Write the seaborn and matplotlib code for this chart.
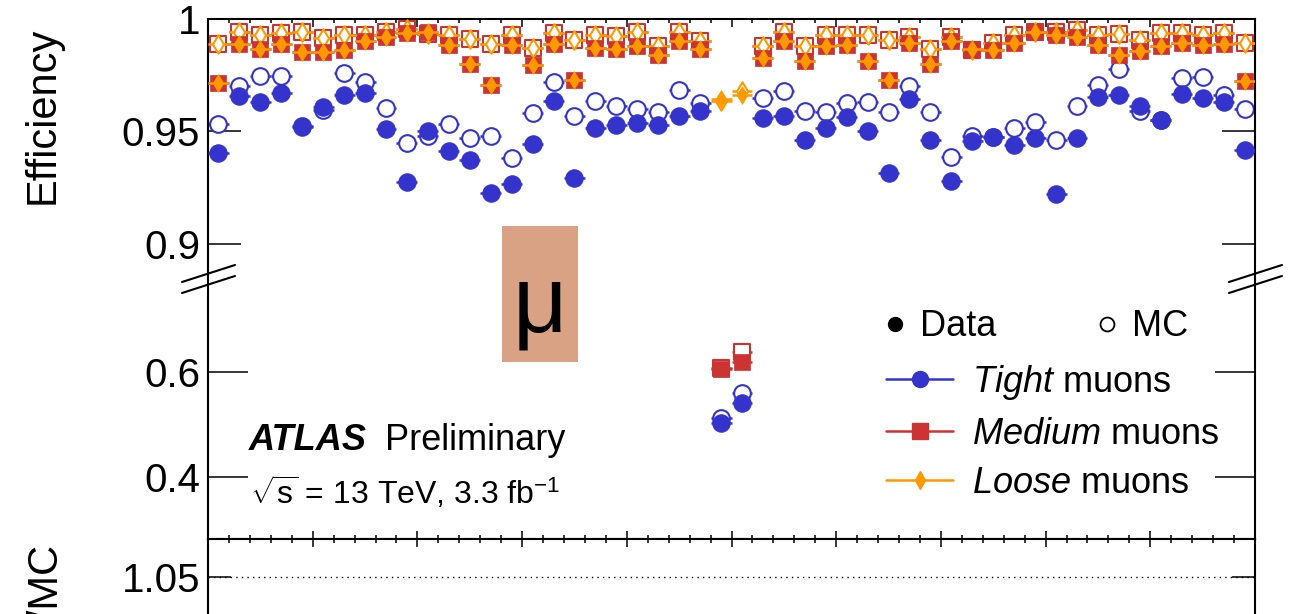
import numpy as np
import pandas as pd
import matplotlib
matplotlib.use("Agg")
import matplotlib.pyplot as plt
import seaborn as sns
from matplotlib.lines import Line2D
from matplotlib.patches import Rectangle
from matplotlib.ticker import MultipleLocator, FixedLocator, FixedFormatter, NullLocator

# ---------------- data (efficiency vs eta, 50 bins of 0.1) ----------------
eta = np.round(np.linspace(-2.45, 2.45, 50), 2)

tight_data = [0.9406, 0.9658, 0.9632, 0.9670, 0.9522, 0.9611, 0.9663, 0.9669, 0.9509, 0.9277,
              0.9501, 0.9413, 0.9372, 0.9226, 0.9267, 0.9443, 0.9636, 0.9295, 0.9516, 0.9531,
              0.9538, 0.9529, 0.9567, 0.9589, 0.502, 0.5415, 0.9559, 0.9567, 0.9460, 0.9515,
              0.9566, 0.9501, 0.9317, 0.9644, 0.9463, 0.9280, 0.9457, 0.9475, 0.9438, 0.9472,
              0.9221, 0.9472, 0.9655, 0.9661, 0.9614, 0.9553, 0.9666, 0.9648, 0.9633, 0.9419]
tight_mc = [0.9534, 0.9700, 0.9746, 0.9746, 0.9526, 0.9597, 0.9761, 0.9721, 0.9604, 0.9450,
            0.9478, 0.9534, 0.9471, 0.9480, 0.9380, 0.9580, 0.9719, 0.9570, 0.9636, 0.9614,
            0.9600, 0.9585, 0.9685, 0.9626, 0.513, 0.5606, 0.9647, 0.9680, 0.9592, 0.9585,
            0.9625, 0.9633, 0.9588, 0.9700, 0.9588, 0.9387, 0.9480, 0.9475, 0.9516, 0.9544,
            0.9460, 0.9614, 0.9705, 0.9776, 0.9592, 0.9553, 0.9736, 0.9743, 0.9661, 0.9600]
medium_data = [0.9717, 0.9889, 0.9868, 0.9889, 0.9853, 0.9853, 0.9864, 0.9900, 0.9922, 0.9937,
               0.9941, 0.9883, 0.9798, 0.9707, 0.9886, 0.9795, 0.9889, 0.9727, 0.9871, 0.9868,
               0.9878, 0.9842, 0.9900, 0.9867, 0.605, 0.6196, 0.9827, 0.9900, 0.9815, 0.9878,
               0.9883, 0.9815, 0.9727, 0.9893, 0.9798, 0.9900, 0.9868, 0.9864, 0.9893, 0.9941,
               0.9930, 0.9922, 0.9883, 0.9842, 0.9856, 0.9878, 0.9893, 0.9883, 0.9890, 0.9724]
medium_mc = [0.9889, 0.9941, 0.9930, 0.9937, 0.9941, 0.9915, 0.9927, 0.9927, 0.9944, 0.9956,
             0.9933, 0.9930, 0.9912, 0.9890, 0.9930, 0.9871, 0.9937, 0.9905, 0.9930, 0.9925,
             0.9941, 0.9878, 0.9944, 0.9900, 0.607, 0.6387, 0.9878, 0.9941, 0.9878, 0.9930,
             0.9930, 0.9930, 0.9905, 0.9922, 0.9868, 0.9922, 0.9860, 0.9893, 0.9930, 0.9941,
             0.9944, 0.9949, 0.9930, 0.9933, 0.9908, 0.9937, 0.9937, 0.9927, 0.9937, 0.9893]
loose_data = [0.9717, 0.9889, 0.9868, 0.9889, 0.9853, 0.9853, 0.9864, 0.9900, 0.9922, 0.9937,
              0.9941, 0.9883, 0.9798, 0.9707, 0.9886, 0.9795, 0.9889, 0.9727, 0.9871, 0.9868,
              0.9878, 0.9842, 0.9900, 0.9867, 0.9645, 0.9663, 0.9827, 0.9900, 0.9815, 0.9878,
              0.9883, 0.9815, 0.9727, 0.9893, 0.9798, 0.9900, 0.9868, 0.9864, 0.9893, 0.9941,
              0.9930, 0.9922, 0.9883, 0.9842, 0.9856, 0.9878, 0.9893, 0.9883, 0.9890, 0.9724]
loose_mc = [0.9889, 0.9941, 0.9930, 0.9937, 0.9941, 0.9915, 0.9927, 0.9927, 0.9944, 0.9956,
            0.9933, 0.9930, 0.9912, 0.9890, 0.9930, 0.9871, 0.9937, 0.9905, 0.9930, 0.9925,
            0.9941, 0.9878, 0.9944, 0.9900, 0.9635, 0.9680, 0.9878, 0.9941, 0.9878, 0.9930,
            0.9930, 0.9930, 0.9905, 0.9922, 0.9868, 0.9922, 0.9860, 0.9893, 0.9930, 0.9941,
            0.9944, 0.9949, 0.9930, 0.9933, 0.9908, 0.9937, 0.9937, 0.9927, 0.9937, 0.9893]
bin_half_width = 0.05

up_ticks = [0.9, 0.95, 1.0]
up_labels = ["0.9", "0.95", "1"]
lo_ticks = [0.4, 0.6]
lo_labels = ["0.4", "0.6"]
ratio_ticks = [1.05]
ratio_labels = ["1.05"]

BLUE = "#3434CC"
RED = "#CC3333"
ORANGE = "#FF9900"
BOX = "#D9A284"

# ---------------- style ----------------
sns.set_theme(style="ticks")
plt.rcParams["font.family"] = ["Liberation Sans", "DejaVu Sans"]
plt.rcParams["mathtext.fontset"] = "custom"
plt.rcParams["mathtext.rm"] = "Liberation Sans"
plt.rcParams["mathtext.it"] = "Liberation Sans:italic"
plt.rcParams["mathtext.bf"] = "Liberation Sans:bold"
plt.rcParams["axes.linewidth"] = 1.5
for key in ("text.color", "axes.labelcolor", "xtick.color", "ytick.color", "axes.edgecolor"):
    plt.rcParams[key] = "black"

W, H = 1312, 614
fig = plt.figure(figsize=(W / 100, H / 100), dpi=100)
fig.patch.set_facecolor("white")

def fx(px):
    return px / W

def fy(py):
    return 1 - py / H

ax_up = fig.add_axes([fx(208), fy(279), (1255 - 208) / W, 260 / H])
ax_lo = fig.add_axes([fx(208), fy(539), (1255 - 208) / W, 260 / H])
ax_r = fig.add_axes([fx(208), fy(700), (1255 - 208) / W, 161 / H])

series = [
    # values, marker, size(pt), face, edge, lw, errcolor
    (tight_mc, "o", 12.0, "white", BLUE, 1.5, BLUE),
    (tight_data, "o", 12.5, BLUE, BLUE, 0.8, BLUE),
    (medium_mc, "s", 11.5, "white", RED, 1.5, RED),
    (loose_mc, "d", 9.4, "white", ORANGE, 1.5, ORANGE),
    (medium_data, "s", 12.0, RED, RED, 0.5, RED),
    (loose_data, "d", 9.0, ORANGE, ORANGE, 0.5, ORANGE),
]

for ax in (ax_up, ax_lo):
    z = 2
    for vals, mk, ms, face, edge, lw, ecol in series:
        ax.errorbar(eta, vals, xerr=bin_half_width, fmt="none", ecolor=ecol,
                    elinewidth=1.8, capsize=0, zorder=z)
        sns.scatterplot(x=eta, y=vals, ax=ax, marker=mk, s=ms ** 2, color=face,
                        edgecolor=edge, linewidth=lw, zorder=z + 0.5, legend=False)
        z += 1
    ax.set_xlabel("")
    ax.set_ylabel("")

for ax in (ax_up, ax_lo, ax_r):
    ax.set_xlim(-2.5, 2.5)
    ax.xaxis.set_major_locator(MultipleLocator(0.5))
    ax.xaxis.set_minor_locator(MultipleLocator(0.1))
    ax.yaxis.set_minor_locator(NullLocator())
    ax.tick_params(axis="x", which="major", direction="in", length=5.8, width=1.1)
    ax.tick_params(axis="x", which="minor", direction="in", length=2.9, width=1.1)
    ax.tick_params(axis="x", labelbottom=False, labeltop=False)
    ax.tick_params(axis="y", which="major", direction="in", left=True, right=True,
                   labelleft=True, labelright=False, width=1.1, pad=5.8, labelsize=29,
                   colors="black")
    ax.set_facecolor("white")
    for sp in ax.spines.values():
        sp.set_linewidth(1.5)
        sp.set_color("black")

# upper part
ax_up.set_ylim(0.88444, 1.0)
ax_up.spines["bottom"].set_visible(False)
ax_up.tick_params(axis="x", which="both", top=True, bottom=False)
ax_up.yaxis.set_major_locator(FixedLocator(up_ticks))
ax_up.yaxis.set_major_formatter(FixedFormatter(up_labels))
ax_up.tick_params(axis="y", which="major", length=23.8)

# lower part
ax_lo.set_ylim(0.2819, 0.77714)
ax_lo.spines["top"].set_visible(False)
ax_lo.tick_params(axis="x", which="both", top=False, bottom=True)
ax_lo.yaxis.set_major_locator(FixedLocator(lo_ticks))
ax_lo.yaxis.set_major_formatter(FixedFormatter(lo_labels))
ax_lo.tick_params(axis="y", which="major", length=28.8)

# ratio panel
ax_r.set_ylim(0.8972, 1.0972)
ax_r.tick_params(axis="x", which="both", top=True, bottom=False)
ax_r.yaxis.set_major_locator(FixedLocator(ratio_ticks))
ax_r.yaxis.set_major_formatter(FixedFormatter(ratio_labels))
ax_r.tick_params(axis="y", which="major", length=16.6)
ax_r.axhline(ratio_ticks[0], color="black", lw=1.0, ls=(0, (1, 3)), zorder=1)

# axis break marks
for xa, xb in ((182, 235), (1229, 1282)):
    for ya, yb in ((282, 265), (293, 276)):
        fig.add_artist(Line2D([fx(xa), fx(xb)], [fy(ya), fy(yb)], color="black",
                              lw=1.5, transform=fig.transFigure))

# axis titles
fig.text(fx(43), fy(115), "Efficiency", rotation=90, ha="center", va="center", fontsize=30)
fig.text(fx(44), fy(541), "Data/MC", rotation=90, ha="center", va="top", fontsize=30)

# mu box
fig.add_artist(Rectangle((fx(502), fy(362)), 76 / W, 136 / H, facecolor=BOX,
                         edgecolor="none", transform=fig.transFigure, zorder=5))
fig.text(fx(540), fy(332), "\u03bc", ha="center", va="baseline", fontsize=68, zorder=6)

# ATLAS label
fig.text(fx(249), fy(440), "ATLAS", fontsize=26, weight="bold", style="italic", va="center")
fig.text(fx(385), fy(440), "Preliminary", fontsize=26, va="center")
fig.text(fx(250), fy(493), r"$\sqrt{\mathrm{s}}$ = 13 TeV, 3.3 fb$^{-1}$", fontsize=23,
         va="center")

# legends
h_dm = [Line2D([], [], marker="o", ls="none", color="black", markersize=10),
        Line2D([], [], marker="o", ls="none", markerfacecolor="white",
               markeredgecolor="black", markeredgewidth=1.3, markersize=10)]
leg1 = fig.legend(handles=h_dm, labels=["Data", "MC"], ncol=2, loc="center left",
                  bbox_to_anchor=(fx(884), fy(327)), frameon=False, fontsize=26,
                  handlelength=0.6, handletextpad=0.39, columnspacing=2.77,
                  borderpad=0, borderaxespad=0)
h_wp = [Line2D([], [], color=BLUE, lw=1.8, marker="o", markersize=11.5),
        Line2D([], [], color=RED, lw=1.8, marker="s", markersize=11.5),
        Line2D([], [], color=ORANGE, lw=1.8, marker="d", markersize=9)]
leg2 = fig.legend(handles=h_wp,
                  labels=[r"$\mathit{Tight}$ muons", r"$\mathit{Medium}$ muons", r"$\mathit{Loose}$ muons"],
                  loc="center left", bbox_to_anchor=(fx(886), fy(432)), frameon=False,
                  fontsize=26, handlelength=1.86, handletextpad=0.53, labelspacing=0.4,
                  borderpad=0, borderaxespad=0)

fig.savefig("out.png", dpi=100, facecolor="white")
